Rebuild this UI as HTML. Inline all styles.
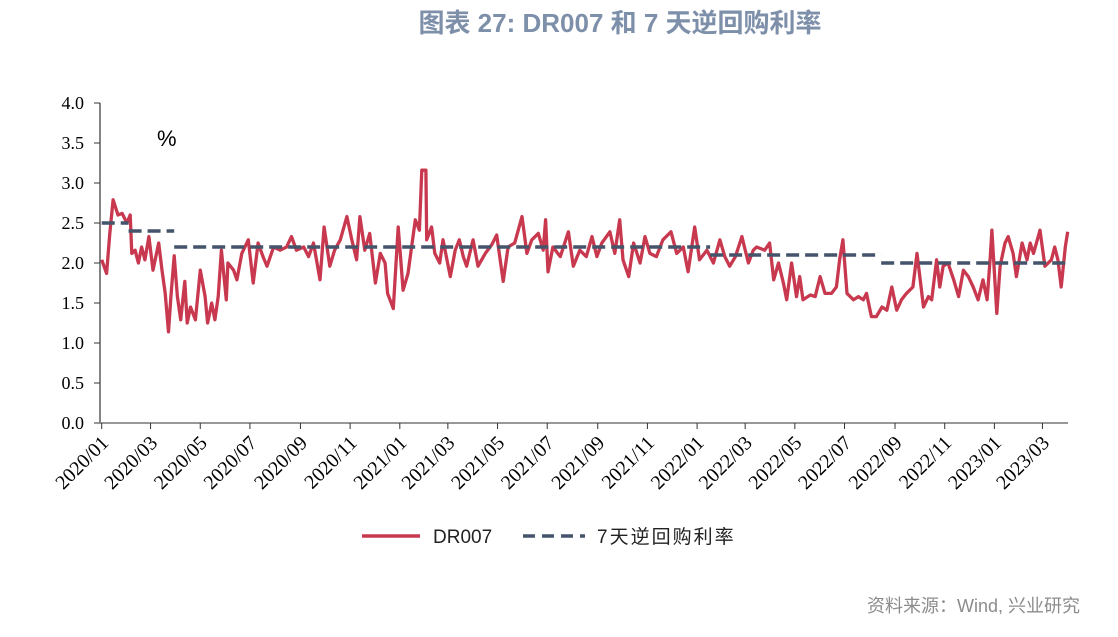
<!DOCTYPE html>
<html><head><meta charset="utf-8">
<style>
body{margin:0;background:#fff;width:1118px;height:637px;overflow:hidden;}
svg{display:block;}
</style></head>
<body>
<svg id="chart" width="1118" height="637">
<text x="620" y="32" text-anchor="middle" font-family="'Liberation Sans','Noto Sans CJK SC',sans-serif" font-size="26" font-weight="bold" fill="#7d8fa9">图表 27: DR007 和 7 天逆回购利率</text>
<text x="157" y="146" font-family="'Liberation Sans',sans-serif" font-size="22" fill="#000">%</text>
<g id="axes"></g>
<g id="series"></g>
<g>
<line x1="362" y1="536" x2="420" y2="536" stroke="#c8394f" stroke-width="3.5"/>
<text x="433" y="543" font-family="'Liberation Sans','Noto Sans CJK SC',sans-serif" font-size="19" fill="#222">DR007</text>
<line x1="523" y1="536" x2="585" y2="536" stroke="#44546a" stroke-width="3.5" stroke-dasharray="12,7"/>
<text x="597" y="543" font-family="'Liberation Sans','Noto Sans CJK SC',sans-serif" font-size="19" fill="#222" letter-spacing="2">7天逆回购利率</text>
</g>
<text x="1080" y="612" text-anchor="end" font-family="'Liberation Sans','Noto Sans CJK SC',sans-serif" font-size="18" fill="#8c8c8c">资料来源：Wind, 兴业研究</text>
</svg>
<script>
const yTicks = [0.0,0.5,1.0,1.5,2.0,2.5,3.0,3.5,4.0];
const xTickLabels = ["2020/01","2020/03","2020/05","2020/07","2020/09","2020/11","2021/01","2021/03","2021/05","2021/07","2021/09","2021/11","2022/01","2022/03","2022/05","2022/07","2022/09","2022/11","2023/01","2023/03"];
const dr007Days = [0,6,10,14,20,25,31,35,37,41,45,49,53,58,63,70,74,78,82,85,89,93,97,102,105,109,115,121,127,130,135,139,143,147,153,155,162,166,172,180,186,192,198,203,211,219,227,233,239,248,254,260,268,273,280,286,293,301,307,313,317,323,329,336,342,348,351,358,364,370,376,385,390,393,398,399,405,409,415,419,428,434,439,444,448,456,462,471,479,485,493,499,507,516,522,528,536,542,545,548,554,563,573,579,587,595,602,608,614,624,630,636,640,647,653,661,667,673,681,689,699,706,714,720,728,734,743,751,759,765,771,778,786,794,800,804,814,820,825,831,837,841,847,853,857,861,870,876,882,888,896,902,906,910,915,923,929,935,939,945,951,958,964,970,976,982,988,996,1001,1009,1015,1019,1025,1029,1033,1039,1046,1052,1058,1064,1070,1076,1082,1087,1091,1093,1099,1103,1109,1113,1119,1123,1130,1136,1140,1144,1152,1158,1166,1170,1174,1178,1183,1186];
const dr007Values = [2.04,1.87,2.37,2.79,2.6,2.62,2.5,2.6,2.12,2.16,2.0,2.2,2.04,2.33,1.91,2.25,1.91,1.62,1.14,1.58,2.09,1.58,1.29,1.77,1.25,1.45,1.29,1.91,1.58,1.25,1.5,1.29,1.58,2.16,1.54,2.0,1.91,1.79,2.12,2.29,1.75,2.25,2.08,1.96,2.2,2.16,2.2,2.33,2.16,2.2,2.08,2.25,1.79,2.45,1.96,2.16,2.29,2.58,2.29,2.04,2.58,2.16,2.37,1.75,2.12,2.0,1.62,1.43,2.45,1.66,1.87,2.54,2.41,3.16,3.16,2.29,2.45,2.12,2.0,2.29,1.83,2.16,2.29,2.08,1.96,2.29,1.96,2.12,2.23,2.35,1.77,2.2,2.25,2.58,2.12,2.29,2.37,2.16,2.54,1.89,2.2,2.08,2.39,1.96,2.16,2.08,2.33,2.08,2.25,2.39,2.12,2.54,2.04,1.83,2.25,2.0,2.33,2.12,2.08,2.29,2.39,2.12,2.2,1.89,2.45,2.04,2.16,2.0,2.29,2.08,1.96,2.08,2.33,2.0,2.16,2.2,2.16,2.25,1.79,2.0,1.75,1.54,2.0,1.58,1.83,1.54,1.6,1.58,1.83,1.62,1.62,1.7,2.04,2.29,1.62,1.54,1.58,1.54,1.62,1.33,1.33,1.45,1.41,1.7,1.41,1.54,1.62,1.7,2.12,1.45,1.58,1.54,2.04,1.7,1.96,2.0,1.79,1.58,1.91,1.83,1.7,1.54,1.79,1.54,2.08,2.41,1.37,1.96,2.25,2.33,2.12,1.83,2.25,2.04,2.25,2.12,2.41,1.96,2.04,2.2,2.04,1.7,2.2,2.39];
const repoDays = [0,33,89,747,957];
const repoRates = [2.5,2.4,2.2,2.1,2.0];
const repoEndDay = 1186;
const tickDays = [0,60,121,182,244,305,366,425,486,547,609,670,731,790,851,912,974,1035,1096,1155];

const NS="http://www.w3.org/2000/svg";
const X0=101.7, PXD=0.8145, Y0=423, PXV=80;
function xs(d){return X0+d*PXD;}
function ys(v){return Y0-v*PXV;}
function mk(tag,attrs,parent){const e=document.createElementNS(NS,tag);for(const k in attrs)e.setAttribute(k,attrs[k]);parent.appendChild(e);return e;}
const axes=document.getElementById('axes'), series=document.getElementById('series');
const ya=mk('line',{x1:100,y1:103,x2:100,y2:423,stroke:'#333','stroke-width':1.2},axes);


yTicks.forEach(v=>{
  const t=mk('line',{x1:94,y1:ys(v),x2:100,y2:ys(v),stroke:'#333','stroke-width':1},axes);
  
  
  const l=mk('text',{x:84,y:ys(v)+6,'text-anchor':'end','font-family':"'Liberation Serif',serif",'font-size':18,fill:'#000'},axes);
  l.textContent=v.toFixed(1);
  
  
});
const xa=mk('line',{x1:95,y1:423,x2:1068,y2:423,stroke:'#777','stroke-width':1.5},axes);


tickDays.forEach((d,i)=>{
  const x=xs(d);
  const t=mk('line',{x1:x,y1:423,x2:x,y2:429,stroke:'#333','stroke-width':1},axes);
  
  
  const l=mk('text',{x:x+8,y:444,'text-anchor':'end','font-family':"'Liberation Serif',serif",'font-size':20,fill:'#000',transform:`rotate(-45 ${x+8} 444)`},axes);
  l.textContent=xTickLabels[i];
  
  
});
let rp='';
repoDays.forEach((d,i)=>{
  const end=i<repoDays.length-1?repoDays[i+1]:repoEndDay;
  rp+=`M${xs(d)},${ys(repoRates[i])}H${xs(end)}`;
});
let dp='';
dr007Days.forEach((d,i)=>{dp+=(i?'L':'M')+xs(d).toFixed(1)+','+ys(dr007Values[i]).toFixed(1);});
const dl=mk('path',{d:dp,fill:'none',stroke:'#c8394f','stroke-width':3.3,'stroke-linejoin':'round'},series);


const rl=mk('path',{d:rp,fill:'none',stroke:'#44546a','stroke-width':3.5,'stroke-dasharray':'13,6'},series);


</script>
</body></html>
